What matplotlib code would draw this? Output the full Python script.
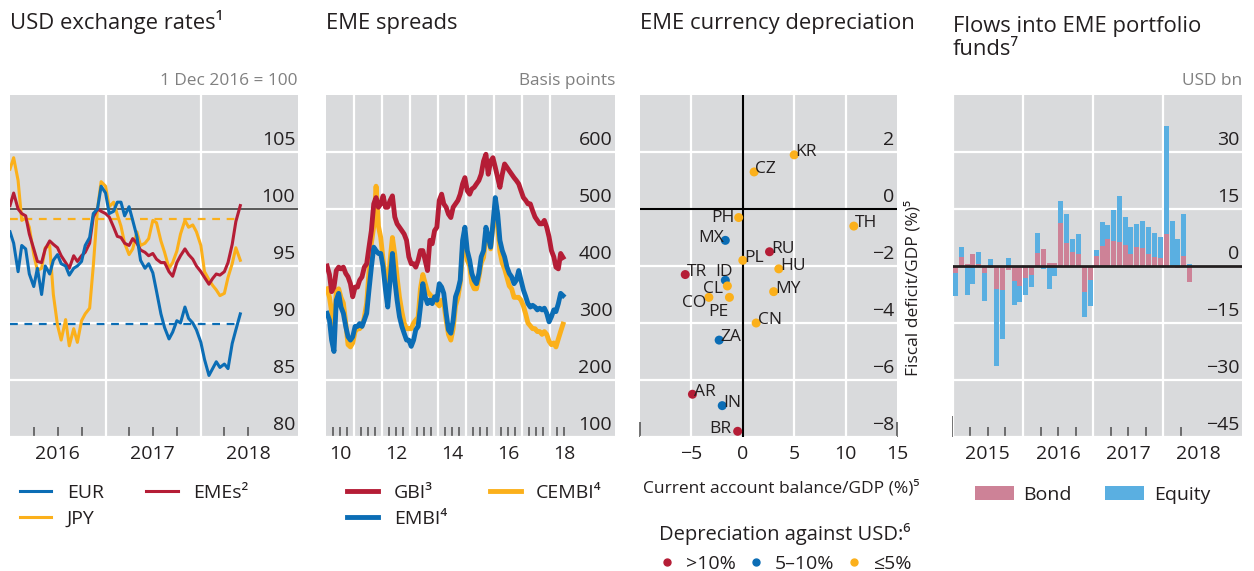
import numpy as np
import pandas as pd
import matplotlib
matplotlib.use("Agg")
import matplotlib.pyplot as plt
import matplotlib.dates as mdates
from matplotlib.lines import Line2D
from matplotlib.patches import Patch
from matplotlib.transforms import ScaledTranslation
from datetime import datetime

plt.rcParams["font.family"] = ["Open Sans", "DejaVu Sans"]

# --- panel 1: USD exchange rates, 1 Dec 2016 = 100 (semi-monthly readings) ---
fx_dates = pd.date_range("2016-01-01", periods=59, freq="SMS")
eur = [98.0, 97.0, 94.5, 96.8, 96.5, 94.3, 93.2, 94.8, 92.5, 95.0, 94.3, 95.5,
       96.0, 95.2, 95.0, 94.2, 94.8, 95.0, 95.4, 96.8, 97.5, 99.6, 100.0, 102.0,
       101.4, 99.6, 99.8, 100.6, 100.6, 99.4, 100.2, 99.0, 97.6, 95.5, 94.8, 95.2,
       94.4, 92.8, 90.8, 89.6, 88.6, 89.2, 90.2, 90.0, 91.4, 90.4, 90.0, 89.4,
       88.3, 86.8, 85.4, 86.0, 86.6, 86.1, 86.4, 86.0, 88.2, 89.4, 90.8]
emes = [100.3, 101.4, 100.0, 99.6, 99.4, 97.8, 96.5, 95.4, 95.3, 96.5, 97.2, 96.9,
        96.6, 95.9, 95.3, 94.8, 95.9, 95.4, 95.9, 96.2, 97.0, 99.3, 100.0, 99.8,
        99.6, 99.3, 98.4, 97.6, 97.5, 97.0, 96.8, 97.4, 97.0, 96.4, 96.2, 95.9,
        96.1, 95.6, 95.3, 95.3, 94.5, 94.1, 95.3, 95.9, 96.5, 96.0, 95.6, 95.0,
        94.5, 94.0, 93.4, 93.9, 94.3, 94.2, 94.5, 95.3, 96.9, 98.9, 100.3]
jpy = [103.5, 104.5, 102.5, 99.0, 99.2, 98.4, 96.0, 94.6, 94.8, 96.6, 96.8, 92.5,
       89.8, 88.5, 90.3, 88.0, 89.5, 88.3, 90.2, 90.8, 91.3, 95.0, 100.0, 102.4,
       102.0, 100.2, 100.6, 99.5, 98.5, 97.0, 96.0, 96.5, 98.0, 96.8, 97.0, 97.4,
       99.0, 98.8, 97.2, 96.2, 94.8, 95.3, 96.3, 97.8, 99.0, 98.4, 98.6, 98.0,
       96.8, 94.5, 93.8, 93.3, 92.9, 92.4, 92.6, 94.0, 95.2, 96.6, 95.5]
eur_avg = 89.9
jpy_avg = 99.1

# --- panel 2: EME spreads, basis points (monthly readings) ---
spread_dates = pd.date_range("2010-01-01", periods=102, freq="MS") + pd.Timedelta(days=14)
gbi = [400, 385, 355, 363, 392, 398, 395, 398, 387, 381, 369, 346,
       363, 363, 375, 381, 398, 404, 433, 462, 509, 520, 503, 509,
       523, 503, 503, 515, 523, 486, 474, 468, 462, 456, 445, 416,
       404, 404, 398, 410, 427, 427, 410, 392, 445, 439, 462, 468,
       515, 526, 509, 503, 491, 485, 503, 509, 515, 526, 544, 555,
       532, 526, 535, 538, 544, 550, 561, 584, 596, 561, 584, 590,
       573, 555, 538, 561, 579, 573, 567, 561, 555, 550, 544, 532,
       520, 515, 509, 509, 497, 486, 480, 474, 474, 480, 468, 451,
       427, 416, 398, 395, 422, 415]
embi = [317, 305, 270, 250, 340, 352, 328, 317, 294, 276, 270, 276,
        294, 294, 299, 294, 305, 317, 358, 398, 433, 427, 422, 422,
        398, 358, 328, 375, 422, 375, 340, 311, 294, 282, 270, 270,
        259, 270, 288, 294, 328, 369, 346, 334, 340, 334, 346, 340,
        369, 363, 352, 317, 288, 282, 305, 346, 358, 375, 445, 468,
        427, 410, 387, 375, 369, 387, 416, 427, 468, 451, 433, 474,
        520, 491, 445, 427, 416, 398, 387, 381, 369, 375, 392, 375,
        358, 346, 334, 328, 331, 328, 323, 326, 323, 326, 317, 302,
        311, 323, 320, 334, 352, 348]
cembi = [360, 345, 320, 290, 355, 360, 345, 335, 300, 262, 258, 265,
         285, 290, 290, 295, 310, 335, 390, 440, 470, 540, 470, 450,
         410, 380, 360, 410, 450, 420, 380, 345, 320, 300, 290, 290,
         290, 300, 305, 310, 360, 385, 370, 355, 350, 345, 340, 335,
         330, 340, 335, 305, 280, 270, 290, 330, 345, 370, 430, 450,
         410, 400, 370, 360, 360, 380, 405, 415, 455, 450, 430, 470,
         500, 470, 425, 405, 395, 380, 365, 360, 345, 345, 345, 340,
         330, 315, 300, 295, 290, 290, 285, 285, 280, 285, 280, 268,
         262, 265, 258, 272, 285, 298]

# --- panel 3: current account vs fiscal balance ---
countries = ["KR", "CZ", "PH", "TH", "MX", "RU", "PL", "HU", "TR", "ID",
             "CL", "MY", "CO", "PE", "CN", "ZA", "AR", "IN", "BR"]
ca_balance = [5.0, 1.1, -0.4, 10.8, -1.7, 2.6, 0.0, 3.5, -5.6, -1.7,
              -1.5, 3.0, -3.3, -1.3, 1.3, -2.3, -4.9, -2.0, -0.5]
fiscal_balance = [1.9, 1.3, -0.3, -0.6, -1.1, -1.5, -1.8, -2.1, -2.3, -2.5,
                  -2.7, -2.9, -3.1, -3.1, -4.0, -4.6, -6.5, -6.9, -7.8]
depreciation = ["low", "low", "low", "low", "mid", "high", "low", "low", "high", "mid",
                "low", "low", "low", "low", "low", "mid", "high", "mid", "high"]
depr_labels = {"high": ">10%", "mid": "5\u201310%", "low": "\u22645%"}

# --- panel 4: flows into EME portfolio funds, USD bn (monthly) ---
flow_dates = pd.date_range("2015-01-01", periods=41, freq="MS") + pd.Timedelta(days=14)
bond = [-1.9, 2.3, 0.5, 3.1, 0.5, -1.9, -0.5, -6.1, -6.3, -1.0, -3.9, -5.2,
        -3.1, -2.4, 3.4, 4.4, 0.8, 0.8, 11.2, 6.0, 3.7, 3.1, -6.8, -3.7,
        2.6, 5.2, 7.0, 6.7, 6.3, 5.4, 3.1, 5.1, 4.8, 3.2, 2.5, 2.0,
        8.5, 0.1, -0.6, 2.6, -4.3]
equity = [-5.9, 2.7, -7.6, -4.7, 3.1, -7.2, 1.8, -20.3, -12.8, 2.1, -6.3, -4.2,
          -4.4, -3.1, 5.2, -0.8, -6.0, -2.6, 5.8, 7.6, 3.4, 5.2, -6.5, -6.8,
          1.6, 6.5, 3.9, 8.1, 12.2, 7.6, 7.1, 6.0, 7.1, 7.1, 6.3, 5.5,
          28.3, 11.8, 7.2, 11.2, 0.6]

# colours
BG = "#d9dadc"
TXT = "#231f20"
BLUE = "#0b6db5"
RED = "#b51d36"
ORANGE = "#fbb01b"
PINK = "#cd8297"
SKY = "#5aafe1"
TICK = "#4d4d4d"
depr_colors = {"high": RED, "mid": BLUE, "low": ORANGE}

W, H = 1254, 571
fig = plt.figure(figsize=(W / 100, H / 100), dpi=100)
lift = ScaledTranslation(0, 2 / 72, fig.dpi_scale_trans)


def add_axes(left, top, width, height):
    return fig.add_axes([left / W, 1 - (top + height) / H, width / W, height / H])


def base_style(ax, yticks, ylim):
    ax.set_facecolor(BG)
    for sp in ax.spines.values():
        sp.set_visible(False)
    ax.set_ylim(*ylim)
    ax.set_yticks(yticks)
    ax.yaxis.tick_right()
    ax.tick_params(axis="y", length=0, pad=-2, labelsize=14, labelcolor=TXT)
    for lab in ax.get_yticklabels():
        lab.set_ha("right")
        lab.set_va("bottom")
        lab.set_transform(lab.get_transform() + lift)
    ax.grid(axis="y", color="white", lw=1.6)
    ax.set_axisbelow(True)


def year_axis(ax, years, quarters, label_years, fmt):
    d2n = mdates.date2num
    ax.set_xticks([d2n(datetime(y, 1, 1)) for y in years])
    ax.set_xticklabels([])
    minor = [datetime(y, m, 1) for (y, m) in quarters]
    ax.set_xticks([d2n(d) for d in minor], minor=True)
    ax.set_xticklabels([fmt(d.year) if (d.month == 7 and d.year in label_years) else ""
                        for d in minor], minor=True)
    ax.tick_params(axis="x", which="major", direction="in", length=15, width=1.1, color=TICK)
    ax.tick_params(axis="x", which="minor", direction="in", length=7, width=1.1, color=TICK,
                   labelsize=14, labelcolor=TXT, pad=6)
    for y in years:
        ax.axvline(datetime(y, 1, 1), color="white", lw=1.6, zorder=0.6)


def unit_label(ax, text):
    ax.text(1.0, 1 + 10 / 342, text, transform=ax.transAxes, ha="right", va="baseline",
            fontsize=12.4, color="#808080")


TITLE_PAD = 47.5
TITLE_SIZE = 15.8

# ---------------- panel 1 ----------------
ax1 = add_axes(10, 95, 288, 342)
base_style(ax1, [80, 85, 90, 95, 100, 105], (80, 110))
ax1.set_xlim(datetime(2016, 1, 1), datetime(2019, 1, 8))
q1 = [(2016, 4), (2016, 7), (2016, 10), (2017, 4), (2017, 7), (2017, 10), (2018, 4), (2018, 7)]
year_axis(ax1, [2017, 2018], q1, [2016, 2017, 2018], str)
ax1.axhline(100, color="#3c3c3c", lw=1.2, zorder=1)
ax1.hlines(jpy_avg, fx_dates[0], fx_dates[-1], colors=ORANGE, linestyles=(0, (3.5, 3)), lw=1.6, zorder=1.5)
ax1.hlines(eur_avg, fx_dates[0], fx_dates[-1], colors=BLUE, linestyles=(0, (3.5, 3)), lw=1.6, zorder=1.5)
l_jpy, = ax1.plot(fx_dates, jpy, color=ORANGE, lw=2.2, label="JPY")
l_eme, = ax1.plot(fx_dates, emes, color=RED, lw=2.2, label="EMEs\u00b2")
l_eur, = ax1.plot(fx_dates, eur, color=BLUE, lw=2.2, label="EUR")
ax1.set_title("USD exchange rates\u00b9", loc="left", fontsize=TITLE_SIZE, color=TXT, pad=TITLE_PAD)
unit_label(ax1, "1 Dec 2016 = 100")
fig.legend([l_eur, l_jpy, l_eme], ["EUR", "JPY", "EMEs\u00b2"], loc="upper left",
           bbox_to_anchor=(20 / W, 1 - 484 / H), ncol=2, frameon=False, fontsize=14,
           handlelength=1.6, handletextpad=0.8, columnspacing=2.2, labelspacing=0.4,
           borderpad=0, borderaxespad=0, labelcolor=TXT)

# ---------------- panel 2 ----------------
ax2 = add_axes(326, 95, 289, 342)
base_style(ax2, [100, 200, 300, 400, 500, 600], (100, 700))
ax2.set_xlim(datetime(2010, 1, 1), datetime(2020, 4, 22))
q2 = [(y, m) for y in range(2010, 2018) for m in (4, 7, 10)] + [(2018, 4), (2018, 7)]
year_axis(ax2, list(range(2011, 2019)), q2, [2010, 2012, 2014, 2016, 2018],
          lambda y: "%02d" % (y % 100))
l_cembi, = ax2.plot(spread_dates, cembi, color=ORANGE, lw=3.5)
l_embi, = ax2.plot(spread_dates, embi, color=BLUE, lw=3.5)
l_gbi, = ax2.plot(spread_dates, gbi, color=RED, lw=3.5)
ax2.set_title("EME spreads", loc="left", fontsize=TITLE_SIZE, color=TXT, pad=TITLE_PAD)
unit_label(ax2, "Basis points")
fig.legend([l_gbi, l_embi, l_cembi], ["GBI\u00b3", "EMBI\u2074", "CEMBI\u2074"], loc="upper left",
           bbox_to_anchor=(347 / W, 1 - 484 / H), ncol=2, frameon=False, fontsize=14,
           handlelength=1.6, handletextpad=0.8, columnspacing=2.2, labelspacing=0.4,
           borderpad=0, borderaxespad=0, labelcolor=TXT)

# ---------------- panel 3 ----------------
ax3 = add_axes(640, 95, 257, 342)
base_style(ax3, [-8, -6, -4, -2, 0, 2], (-8, 4))
ax3.set_xlim(-10, 15)
ax3.set_xticks([-10, -5, 0, 5, 10, 15])
ax3.set_xticklabels(["", "\u22125", "0", "5", "10", "15"])
ax3.tick_params(axis="x", direction="in", length=11, width=1.1, color=TICK,
                labelsize=14, labelcolor=TXT, pad=6)
for xv in (-5, 5, 10):
    ax3.axvline(xv, color="white", lw=1.6, zorder=0.6)
ax3.axhline(0, color="black", lw=1.5, zorder=1)
ax3.axvline(0, color="black", lw=1.5, zorder=1)
cols = [depr_colors[g] for g in depreciation]
ax3.scatter(ca_balance, fiscal_balance, s=42, c=cols, zorder=3, linewidths=0)

label_pos = {"PH": (-3, 0, "right", "center"), "MX": (-1, -1, "right", "baseline"),
             "ID": (-1, 3, "center", "baseline"), "CL": (-3, -5, "right", "baseline"),
             "CO": (-2, -4, "right", "center"), "PE": (-0.5, -13.5, "right", "baseline"),
             "BR": (-4.5, -1, "right", "baseline")}
for name, xv, yv in zip(countries, ca_balance, fiscal_balance):
    dx, dy, ha, va = label_pos.get(name, (1, -1, "left", "baseline"))
    ax3.annotate(name, (xv, yv), xytext=(dx, dy), textcoords="offset points",
                 ha=ha, va=va, fontsize=12.5, color=TXT, zorder=4)

ax3.set_title("EME currency depreciation", loc="left", fontsize=TITLE_SIZE, color=TXT, pad=TITLE_PAD)
ax3.set_xlabel("Current account balance/GDP (%)\u2075", fontsize=12.5, color=TXT, va="center")
ax3.xaxis.set_label_coords(0.55, -0.149)
ax3.set_ylabel("Fiscal deficit/GDP (%)\u2075", fontsize=12.5, color=TXT, rotation=90,
               va="center", ha="center")
ax3.yaxis.set_label_coords(1.062, 0.435)

depr_handles = [Line2D([0], [0], marker="o", ls="", color=depr_colors[k], markersize=5)
                for k in ("high", "mid", "low")]
leg3 = fig.legend(depr_handles, [depr_labels[k] for k in ("high", "mid", "low")],
                  title="Depreciation against USD:\u2076", loc="upper left",
                  bbox_to_anchor=(659 / W, 1 - 523 / H), ncol=3, frameon=False, fontsize=14,
                  title_fontsize=14.5, handlelength=0.8, handletextpad=0.6, columnspacing=0.6,
                  borderpad=0, borderaxespad=0, alignment="left", labelcolor=TXT)
leg3.get_title().set_color(TXT)

# ---------------- panel 4 ----------------
ax4 = add_axes(953, 95, 289, 342)
base_style(ax4, [-45, -30, -15, 0, 15, 30], (-45, 45))
ax4.set_xlim(datetime(2015, 1, 1), datetime(2019, 2, 14))
q4 = [(y, m) for y in range(2015, 2018) for m in (4, 7, 10)] + [(2018, 4), (2018, 7)]
year_axis(ax4, [2015, 2016, 2017, 2018], q4, [2015, 2016, 2017, 2018], str)
ax4.xaxis.get_minor_ticks()[-1].tick1line.set_visible(False)
bond_arr = np.array(bond)
eq_arr = np.array(equity)
eq_bottom = np.where(np.sign(bond_arr) == np.sign(eq_arr), bond_arr, 0)
ax4.bar(flow_dates, bond_arr, width=26, color=PINK, zorder=2)
ax4.bar(flow_dates, eq_arr, bottom=eq_bottom, width=26, color=SKY, zorder=2)
ax4.axhline(0, color=TXT, lw=2.0, zorder=3)
# two-line title: baseline of the last line sits 26 px lower than the single-line titles
ax4.set_title("Flows into EME portfolio\nfunds\u2077", loc="left", fontsize=TITLE_SIZE, color=TXT,
              pad=TITLE_PAD - 26 * 0.72, linespacing=1.15)
unit_label(ax4, "USD bn")
fig.legend([Patch(facecolor=PINK), Patch(facecolor=SKY)], ["Bond", "Equity"], loc="upper left",
           bbox_to_anchor=(975 / W, 1 - 486 / H), ncol=2, frameon=False, fontsize=14,
           handlelength=2.0, handleheight=0.7, handletextpad=0.5, columnspacing=1.7,
           borderpad=0, borderaxespad=0, labelcolor=TXT)

fig.savefig("out.png", dpi=100, facecolor="white")
